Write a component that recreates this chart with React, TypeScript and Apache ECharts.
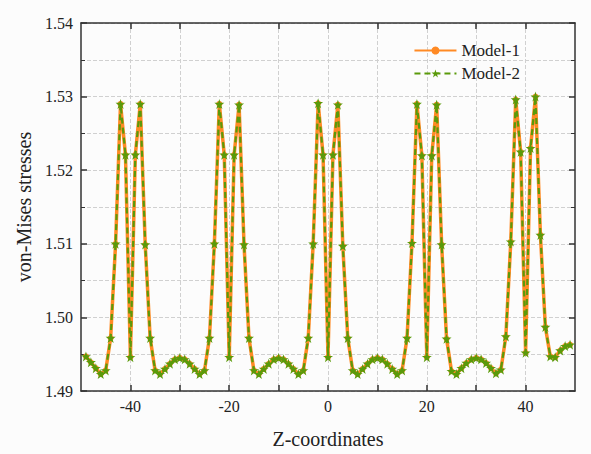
import React, { useEffect, useRef } from "react";
import * as echarts from "echarts";

const zCoords: number[] = [];
for (let z = -49; z <= 49; z++) zCoords.push(z);

// von-Mises stresses, z = -49 .. 49
const model1: number[] = [
  // -49 .. -45
  1.4947, 1.4939, 1.4931, 1.4923, 1.4928,
  // -44 .. -36
  1.4972, 1.5100, 1.5290, 1.5221, 1.4946, 1.5221, 1.5290, 1.5099, 1.4972,
  // -35 .. -25
  1.4928, 1.4923, 1.4930, 1.4937, 1.4943, 1.4945, 1.4943, 1.4937, 1.4930, 1.4923, 1.4928,
  // -24 .. -16
  1.4972, 1.5100, 1.5290, 1.5221, 1.4946, 1.5221, 1.5289, 1.5099, 1.4972,
  // -15 .. -5
  1.4928, 1.4923, 1.4930, 1.4937, 1.4943, 1.4945, 1.4943, 1.4937, 1.4930, 1.4923, 1.4928,
  // -4 .. 4
  1.4972, 1.5100, 1.5291, 1.5221, 1.4946, 1.5221, 1.5289, 1.5097, 1.4972,
  // 5 .. 15
  1.4928, 1.4923, 1.4930, 1.4937, 1.4943, 1.4945, 1.4943, 1.4937, 1.4930, 1.4923, 1.4928,
  // 16 .. 24
  1.4972, 1.5101, 1.5290, 1.5220, 1.4946, 1.5220, 1.5289, 1.5099, 1.4971,
  // 25 .. 35
  1.4927, 1.4923, 1.4931, 1.4938, 1.4943, 1.4945, 1.4943, 1.4938, 1.4931, 1.4924, 1.4929,
  // 36 .. 44
  1.4974, 1.5103, 1.5296, 1.5225, 1.4952, 1.5230, 1.5300, 1.5112, 1.4987,
  // 45 .. 49
  1.4947, 1.4946, 1.4955, 1.4961, 1.4963,
];
const model2: number[] = model1.slice();

const xRange = { min: -50, max: 50, gridInterval: 10 };
const xLabelValues: number[] = [-40, -20, 0, 20, 40];
const xTickValues: number[] = [-40, -30, -20, -10, 0, 10, 20, 30, 40];
const yTicks = { min: 1.49, max: 1.54, interval: 0.01 };

const FONT = "Liberation Serif";

export default function App() {
  const ref = useRef<HTMLDivElement>(null);
  useEffect(() => {
    if (!ref.current) return;
    const chart = echarts.init(ref.current, undefined, { renderer: "svg" });
    const axisLineStyle = { color: "#333", width: 1.5 };
    const splitDashed = { show: true, lineStyle: { color: "#d0d0d0", type: "dashed" as const, width: 1 } };
    const baseX = {
      type: "value" as const,
      min: xRange.min,
      max: xRange.max,
      interval: xRange.gridInterval,
      axisLine: { show: true, onZero: false, lineStyle: axisLineStyle },
      axisTick: {
        show: true,
        inside: true,
        length: 6,
        customValues: xTickValues,
        lineStyle: { color: "#333", width: 1.5 },
      },
    };
    const baseY = {
      type: "value" as const,
      min: yTicks.min,
      max: yTicks.max,
      interval: yTicks.interval,
      axisLine: { show: true, onZero: false, lineStyle: axisLineStyle },
      axisTick: { show: true, inside: true, length: 6, lineStyle: { color: "#333", width: 1.5 } },
      minorTick: { show: true, splitNumber: 2, length: 4, lineStyle: { color: "#333", width: 1 } },
    };
    chart.setOption({
      animation: false,
      backgroundColor: "#fcfcfc",
      textStyle: { fontFamily: FONT },
      grid: { left: 81, right: 16, top: 23, bottom: 58 },
      legend: {
        show: true,
        right: 66,
        top: 37,
        orient: "vertical",
        itemWidth: 42,
        itemHeight: 10,
        itemGap: 6,
        textStyle: { fontFamily: FONT, fontSize: 17, color: "#222" },
        data: ["Model-1", "Model-2"],
      },
      xAxis: [
        {
          ...baseX,
          position: "bottom",
          name: "Z-coordinates",
          nameLocation: "middle",
          nameGap: 38,
          nameTextStyle: { fontFamily: FONT, fontSize: 20, color: "#222" },
          axisLabel: {
            show: true,
            fontFamily: FONT,
            fontSize: 16,
            color: "#222",
            margin: 7,
            customValues: xLabelValues,
          },
          splitLine: splitDashed,
        },
        {
          ...baseX,
          position: "top",
          axisLabel: { show: false },
          splitLine: { show: false },
        },
      ],
      yAxis: [
        {
          ...baseY,
          position: "left",
          name: "von-Mises stresses",
          nameLocation: "middle",
          nameGap: 32,
          nameTextStyle: { fontFamily: FONT, fontSize: 20, color: "#222" },
          axisLabel: {
            show: true,
            fontFamily: FONT,
            fontSize: 16,
            color: "#222",
            margin: 8,
            formatter: (v: number) => v.toFixed(2),
          },
          splitLine: splitDashed,
          minorSplitLine: splitDashed,
        },
        {
          ...baseY,
          position: "right",
          axisLabel: { show: false },
          splitLine: { show: false },
        },
      ],
      series: [
        {
          name: "Model-1",
          type: "line",
          data: zCoords.map((z, i) => [z, model1[i]]),
          symbol: "circle",
          symbolSize: 6,
          itemStyle: { color: "#ff8a24" },
          lineStyle: { color: "#ff8a24", width: 3.5 },
          z: 2,
        },
        {
          name: "Model-2",
          type: "line",
          data: zCoords.map((z, i) => [z, model2[i]]),
          symbol: "path://M50,0 L61.8,35.4 L99,35.4 L69,57.3 L80.3,92.7 L50,70.8 L19.7,92.7 L31,57.3 L1,35.4 L38.2,35.4 Z",
          symbolSize: 10,
          itemStyle: { color: "#5a9a0a" },
          lineStyle: { color: "#5a9a0a", width: 2.2, type: [6, 4] },
          z: 3,
        },
      ],
    });
    return () => chart.dispose();
  }, []);
  return (
    <div
      ref={ref}
      style={{ position: "fixed", left: 0, top: 0, width: 591, height: 454 }}
    />
  );
}
